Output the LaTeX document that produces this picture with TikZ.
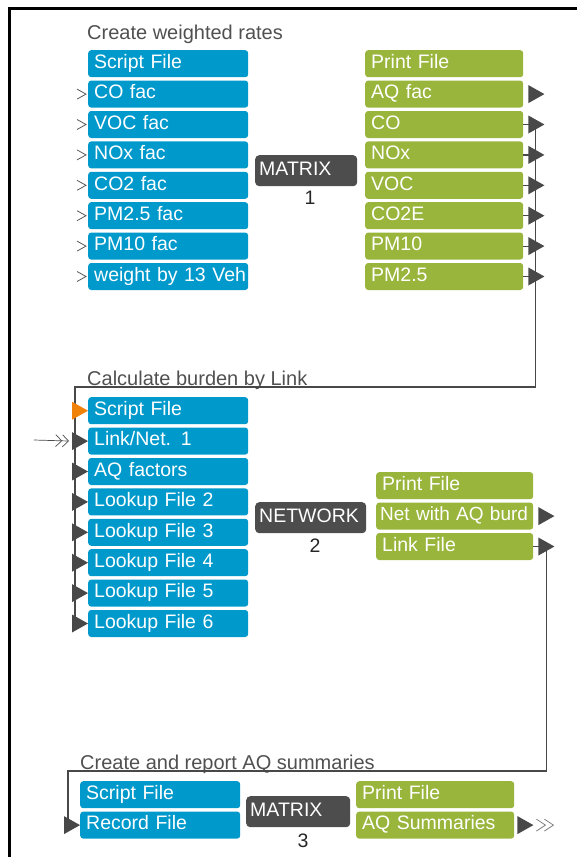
\documentclass[tikz,border=0pt]{standalone}
\usepackage{fontspec}
\setmainfont{Liberation Sans}
\usetikzlibrary{arrows.meta, positioning}
\definecolor{aqblue}{RGB}{0, 153, 204}
\definecolor{aqgreen}{RGB}{153, 181, 60}
\definecolor{procgray}{RGB}{77, 77, 77}
\definecolor{portgray}{RGB}{72, 72, 72}
\definecolor{portorange}{RGB}{240, 130, 10}
\definecolor{titlegray}{RGB}{80, 80, 80}

\begin{document}
\begin{tikzpicture}[
        x=1pt, y=-1pt,
        node distance=3pt,
        boxtext/.style={font=\fontsize{19.5}{19.5}\selectfont, text=white, text height=13.5pt, text depth=4pt},
        inbox/.style={boxtext, fill=aqblue, rounded corners=3pt, minimum height=27pt, text width=148pt, inner xsep=6pt, align=left},
        outbox/.style={inbox, fill=aqgreen, text width=146pt},
        proc/.style={boxtext, fill=procgray, rounded corners=4pt, minimum height=31pt, inner xsep=4pt, align=left, anchor=north west},
        procno/.style={font=\fontsize{19.5}{19.5}\selectfont, text=black!85},
        grouptitle/.style={font=\fontsize{20}{20}\selectfont, text=titlegray, anchor=base west, inner sep=0pt},
        pics/porttri/.style={code={\fill[#1] (0,-9) -- (16,0) -- (0,9) -- cycle;}},
        pics/porttri/.default=portgray,
        wire/.style={draw=portgray, line width=1.2pt},
        feed/.style={draw=gray!60!black, line width=0.7pt, shorten >=3pt, -{Straight Barb[length=6pt,width=12pt]Straight Barb[length=6pt,width=12pt]}},
        chev/.style={draw=gray!70!black, line width=0.8pt}
    ]
        \useasboundingbox (0,0) rectangle (577,857);
        \draw[line width=3pt] (9.5,857) -- (9.5,8.5) -- (577,8.5);

        % step 1: weighted rates
        \node[grouptitle] (title1) at (87,39) {Create weighted rates};
        \node[inbox, anchor=north west] (a1) at (88,50) {Script File};
        \node[inbox, below=of a1] (a2) {CO fac};
        \node[inbox, below=of a2] (a3) {VOC fac};
        \node[inbox, below=of a3] (a4) {NOx fac};
        \node[inbox, below=of a4] (a5) {CO2 fac};
        \node[inbox, below=of a5] (a6) {PM2.5 fac};
        \node[inbox, below=of a6] (a7) {PM10 fac};
        \node[inbox, below=of a7] (a8) {\mbox{weight by 13 Veh}};
        \foreach \n in {a2,a3,a4,a5,a6,a7,a8}
            \draw[chev] ([xshift=-11pt,yshift=5pt]\n.west) -- ([xshift=-2pt]\n.west) -- ([xshift=-11pt,yshift=-5pt]\n.west);

        \node[proc, text width=94pt] (mat1) at (255,155) {MATRIX};
        \node[procno] (mat1no) at (310,198) {1};

        \node[outbox, anchor=north west] (o1) at (365,50) {Print File};
        \node[outbox, below=of o1] (o2) {AQ fac};
        \node[outbox, below=of o2] (o3) {CO};
        \node[outbox, below=of o3] (o4) {NOx};
        \node[outbox, below=of o4] (o5) {VOC};
        \node[outbox, below=of o5] (o6) {CO2E};
        \node[outbox, below=of o6] (o7) {PM10};
        \node[outbox, below=of o7] (o8) {PM2.5};

        % step 2: burden by link
        \node[grouptitle] (title2) at (87,385) {Calculate burden by Link};
        \node[inbox, anchor=north west] (n1) at (88,397) {Script File};
        \node[inbox, below=of n1] (n2) {Link/Net. 1};
        \node[inbox, below=of n2] (n3) {AQ factors};
        \node[inbox, below=of n3] (n4) {Lookup File 2};
        \node[inbox, below=of n4] (n5) {Lookup File 3};
        \node[inbox, below=of n5] (n6) {Lookup File 4};
        \node[inbox, below=of n6] (n7) {Lookup File 5};
        \node[inbox, below=of n7] (n8) {Lookup File 6};

        \node[proc, text width=103pt] (net2) at (255,502) {NETWORK};
        \node[procno] (net2no) at (315,546) {2};

        \node[outbox, anchor=north west, text width=145pt] (q1) at (376,472) {Print File};
        \node[outbox, below=of q1, text width=149pt, inner xsep=4pt, font=\fontsize{19}{19}\selectfont] (q2) {\mbox{Net with AQ burd}};
        \node[outbox, below=of q2, text width=145pt] (q3) {Link File};

        % step 3: summaries
        \node[grouptitle] (title3) at (80,769) {Create and report AQ summaries};
        \node[inbox, anchor=north west] (r1) at (80,781) {Script File};
        \node[inbox, below=of r1] (r2) {Record File};

        \node[proc, text width=96pt] (mat3) at (246,796) {MATRIX};
        \node[procno] (mat3no) at (303,841) {3};

        \node[outbox, anchor=north west] (g1) at (356,781) {Print File};
        \node[outbox, below=of g1] (g2) {AQ Summaries};

        % ports
        \foreach \i in {2,...,8}
            \coordinate[right=5pt of o\i] (op\i);
        \foreach \i in {1,...,8}
            \coordinate[left=16pt of n\i] (ip\i);
        \coordinate[right=5pt of q2] (qp2);
        \coordinate[right=5pt of q3] (qp3);
        \coordinate[left=16pt of r2] (rp2);
        \coordinate[right=3pt of g2] (gp2);

        % links
        \coordinate (turnA) at (75,387);
        \coordinate (turnB) at (68,771);
        \coordinate (linkin) at (34,440);
        \foreach \i in {3,...,8}
            \draw[wire] (o\i.east) -- ([xshift=7pt]op\i);
        \draw[wire] ([xshift=7pt]op3) |- (turnA) -- (turnA |- ip8);
        \draw[wire] (q3.east) -- ([xshift=8pt]qp3) |- (turnB) -- (turnB |- rp2);
        \draw[feed] (linkin) -- (ip2);

        \foreach \i in {2,...,8}
            \pic at (op\i) {porttri};
        \pic at (ip1) {porttri=portorange};
        \foreach \i in {2,...,8}
            \pic at (ip\i) {porttri};
        \pic at (qp2) {porttri};
        \pic at (qp3) {porttri};
        \pic at (rp2) {porttri};
        \pic at (gp2) {porttri};

        \draw[chev, draw=gray] ([xshift=19pt,yshift=6pt]gp2) -- ([xshift=28pt]gp2) -- ([xshift=19pt,yshift=-6pt]gp2);
        \draw[chev, draw=gray] ([xshift=27pt,yshift=6pt]gp2) -- ([xshift=36pt]gp2) -- ([xshift=27pt,yshift=-6pt]gp2);
\end{tikzpicture}
\end{document}
